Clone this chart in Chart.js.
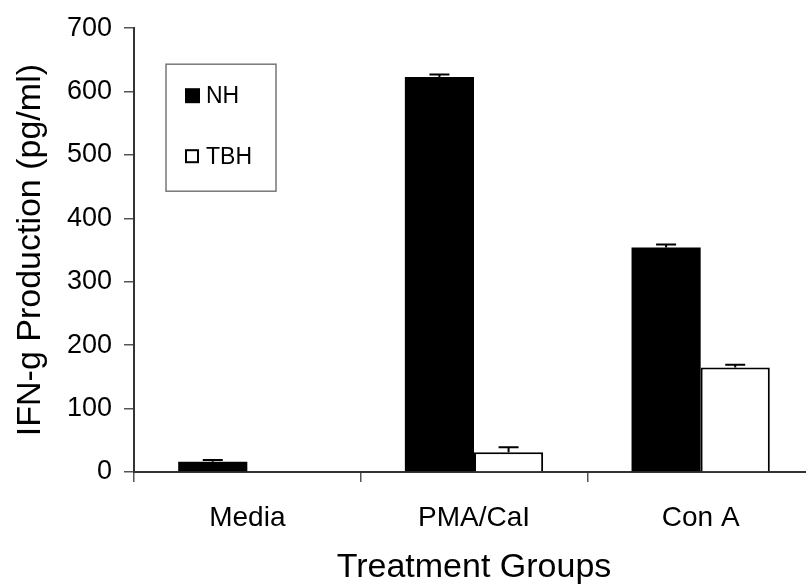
<!DOCTYPE html>
<html>
<head>
<meta charset="utf-8">
<script src="https://cdn.jsdelivr.net/npm/chart.js@4.4.1/dist/chart.umd.min.js"></script>
<style>
  html, body { margin: 0; padding: 0; background: #fff; overflow: hidden; }
  #wrap { width: 806px; height: 588px; overflow: hidden; }
</style>
</head>
<body>
<div id="wrap"><canvas id="chart" width="820" height="588"></canvas></div>
<script>
// data
var groups = ['Media', 'PMA/CaI', 'Con A'];
var nhVals = [16, 623, 354];
var nhErr = [3, 4, 5];
var tbhVals = [0, 31, 165];
var tbhErr = [0, 8, 4];

var fontName = '"Liberation Sans", Arial, sans-serif';

// one-sided error bars, drawn from the bar elements + y scale
var errorBars = {
  id: 'errorBars',
  afterDatasetsDraw: function(chart) {
    var ctx = chart.ctx;
    var yScale = chart.scales.y;
    ctx.save();
    ctx.strokeStyle = '#000';
    ctx.lineWidth = 2;
    chart.data.datasets.forEach(function(ds, i) {
      var meta = chart.getDatasetMeta(i);
      meta.data.forEach(function(bar, j) {
        var err = ds.errors[j];
        if (!err) return;
        var x = bar.x;
        var y0 = yScale.getPixelForValue(ds.data[j]);
        var y1 = yScale.getPixelForValue(ds.data[j] + err);
        ctx.beginPath();
        ctx.moveTo(x, y0);
        ctx.lineTo(x, y1);
        ctx.moveTo(x - 10, y1);
        ctx.lineTo(x + 10, y1);
        ctx.stroke();
      });
    });
    ctx.restore();
  }
};

// boxed legend inside the plot area
var boxLegend = {
  id: 'boxLegend',
  afterDraw: function(chart) {
    var ctx = chart.ctx;
    var left = chart.chartArea.left + 32;
    var top = chart.chartArea.top + 36;
    ctx.save();
    ctx.strokeStyle = '#777';
    ctx.lineWidth = 1.5;
    ctx.strokeRect(left, top, 110, 127);
    ctx.font = '23px ' + fontName;
    ctx.textBaseline = 'middle';
    chart.data.datasets.forEach(function(ds, i) {
      var cy = top + 31 + i * 61;
      if (ds.backgroundColor == '#000000') {
        ctx.fillStyle = '#000';
        ctx.fillRect(left + 19, cy - 7, 15, 15);
      } else {
        ctx.fillStyle = '#fff';
        ctx.fillRect(left + 19, cy - 7, 14, 14);
        ctx.strokeStyle = '#000';
        ctx.lineWidth = 2;
        ctx.strokeRect(left + 20, cy - 6, 12, 12);
      }
      ctx.fillStyle = '#000';
      ctx.fillText(ds.label, left + 40, cy + 1);
    });
    ctx.restore();
  }
};

var ctx = document.getElementById('chart');
var myChart = new Chart(ctx, {
  type: 'bar',
  data: {
    labels: groups,
    datasets: [{
      label: 'NH',
      data: nhVals,
      errors: nhErr,
      backgroundColor: '#000000',
      borderColor: '#000000',
      borderWidth: 0
    }, {
      label: 'TBH',
      data: tbhVals,
      errors: tbhErr,
      backgroundColor: '#ffffff',
      borderColor: '#000000',
      borderWidth: 2
    }]
  },
  plugins: [errorBars, boxLegend],
  options: {
    responsive: false,
    animation: false,
    categoryPercentage: 0.61,
    barPercentage: 1.0,
    layout: { padding: { top: 24, right: 6, left: 0, bottom: 0 } },
    plugins: {
      legend: { display: false },
      tooltip: { enabled: false }
    },
    scales: {
      x: {
        afterFit: function(scale) { scale.height = 116; },
        border: { display: true, color: '#333', width: 2 },
        grid: { display: true, drawOnChartArea: false, drawTicks: true, tickLength: 10, offset: true, color: '#555', lineWidth: 1.5 },
        ticks: { color: '#000', padding: 19, font: { family: fontName, size: 28 } },
        title: {
          display: true,
          text: 'Treatment Groups',
          color: '#000',
          padding: { top: 1, bottom: 0 },
          font: { family: fontName, size: 34 }
        }
      },
      y: {
        min: 0,
        max: 700,
        afterFit: function(scale) { scale.width = 134; },
        border: { display: true, color: '#333', width: 2 },
        grid: { display: true, drawOnChartArea: false, drawTicks: true, tickLength: 10, color: '#555', lineWidth: 1.5 },
        ticks: { stepSize: 100, color: '#000', padding: 12, font: { family: fontName, size: 27 } },
        title: {
          display: true,
          text: 'IFN-g Production (pg/ml)',
          color: '#000',
          padding: { top: 10, bottom: 0 },
          font: { family: fontName, size: 34 }
        }
      }
    }
  }
});
</script>
</body>
</html>
